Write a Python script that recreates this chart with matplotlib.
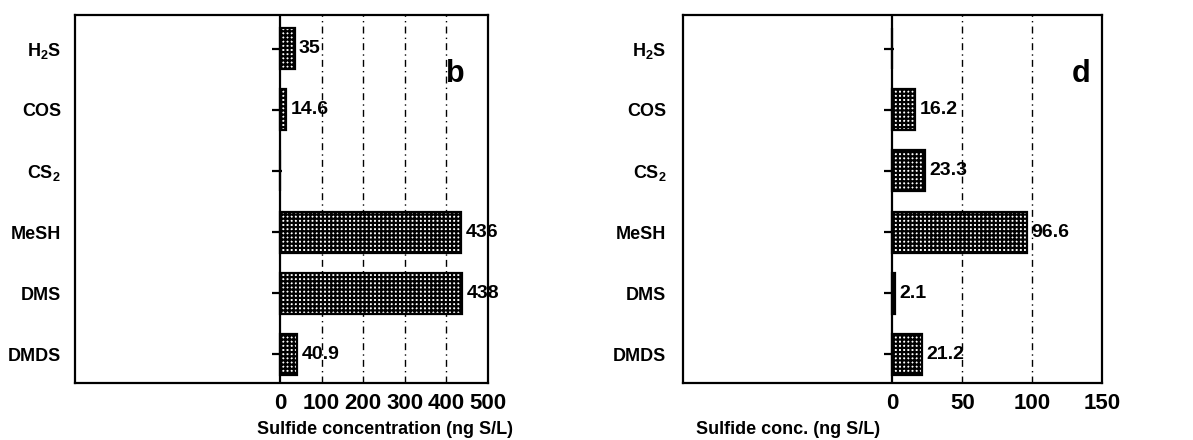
import numpy as np
import matplotlib
matplotlib.use("Agg")
import matplotlib.pyplot as plt

plt.rcParams['font.family'] = ['Liberation Sans', 'DejaVu Sans']
plt.rcParams['font.weight'] = 'bold'
plt.rcParams['mathtext.fontset'] = 'custom'
plt.rcParams['mathtext.rm'] = 'Liberation Sans:bold'
plt.rcParams['mathtext.default'] = 'rm'
plt.rcParams['hatch.linewidth'] = 1.6

# sulfide species, top to bottom
species = ['H$_2$S', 'COS', 'CS$_2$', 'MeSH', 'DMS', 'DMDS']

# panel b : sulfide concentration (ng S/L)
conc_b = [35, 14.6, 0, 436, 438, 40.9]
ticks_b = [0, 100, 200, 300, 400, 500]
grid_b = [100, 200, 300, 400]

# panel d : sulfide conc. (ng S/L)
conc_d = [0, 16.2, 23.3, 96.6, 2.1, 21.2]
ticks_d = [0, 50, 100, 150]
grid_d = [50, 100]

fig = plt.figure(figsize=(11.93, 4.40), dpi=100)
fig.set_facecolor('w')

ax1 = fig.add_axes([0.0629, 0.1295, 0.3462, 0.8364])
ax2 = fig.add_axes([0.5725, 0.1295, 0.3512, 0.8364])

panels = [
    (ax1, conc_b, ticks_b, grid_b, (-493, 500), 'b', 'Sulfide concentration (ng S/L)', 0.75, 10, 0.92),
    (ax2, conc_d, ticks_d, grid_d, (-150, 150), 'd', 'Sulfide conc. (ng S/L)', 0.25, 12, 0.95),
]

ypos = np.arange(len(species))

for ax, vals, xt, gl, xl, letter, xlab, xlabpos, ypad, letx in panels:
    for g in gl:
        ax.axvline(g, color='k', lw=1.0, ls=(0, (5, 3, 1, 3)), zorder=1)
    ax.axvline(0, color='k', lw=1.6, zorder=3)

    ax.barh(ypos, vals, height=0.67, color='white', edgecolor='k',
            hatch='++++', lw=1.6, zorder=2)

    # little tick dashes on the zero line
    ax.plot(np.zeros(len(species)) - 0.008 * (xl[1] - xl[0]), ypos, ls='none',
            marker='_', ms=7, mew=1.6, color='k', zorder=4)

    for y, v in zip(ypos, vals):
        if v > 0:
            ax.annotate(f'{v:g}', xy=(v, y), xytext=(3, 0),
                        textcoords='offset points', ha='left', va='center',
                        fontsize=14)

    ax.set_xlim(*xl)
    ax.set_ylim(5.47, -0.55)
    ax.set_yticks(ypos)
    ax.set_yticklabels(species, fontsize=13)
    ax.set_xticks(xt)
    ax.set_xticklabels([str(t) for t in xt], fontsize=16)
    ax.tick_params(axis='y', length=0, pad=ypad)
    ax.tick_params(axis='x', length=0, pad=7)
    for s in ax.spines.values():
        s.set_linewidth(1.6)

    ax.text(xlabpos, -0.126, xlab, transform=ax.transAxes, fontsize=13,
            ha='center', va='center')

    ax.text(letx, 0.84, letter, transform=ax.transAxes, fontsize=22,
            fontweight='bold', ha='center', va='center')

fig.savefig('out.png', dpi=100)
